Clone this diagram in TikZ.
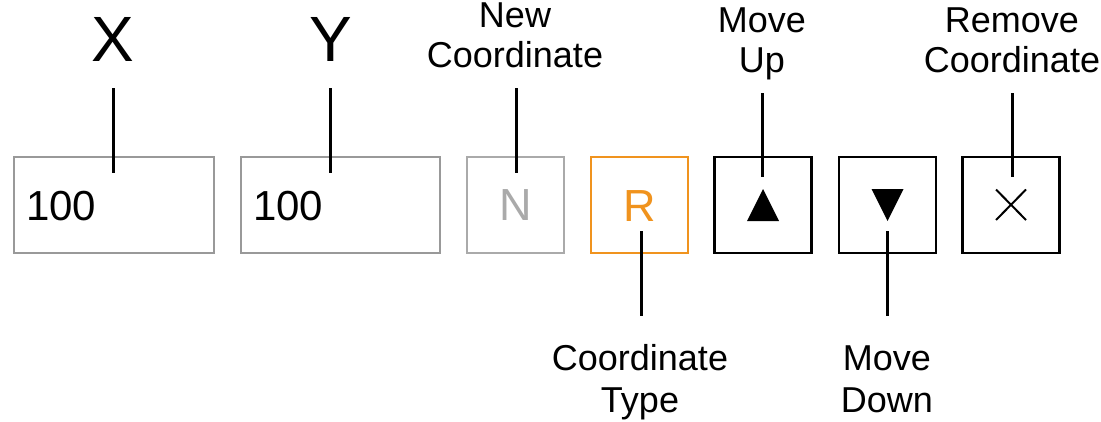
\documentclass[tikz,border=0pt]{standalone}
\usepackage{fontspec}
\setmainfont{Liberation Sans}
\definecolor{boxgray}{HTML}{999999}
\definecolor{ngray}{HTML}{AAAAAA}
\definecolor{rorange}{HTML}{F0931E}
\begin{document}
\begin{tikzpicture}[x=1pt,y=-1pt,
  field/.style={draw=boxgray,line width=2pt,minimum width=200pt,minimum height=96pt,inner sep=0pt},
  btn/.style={draw=black,line width=2.4pt,minimum width=97pt,minimum height=96pt,inner sep=0pt},
  conn/.style={line width=3pt},
  lbl/.style={font=\fontsize{36}{42}\selectfont,align=center,anchor=base,inner sep=0pt},
  toplbl/.style={lbl,font=\fontsize{36}{40}\selectfont},
  axis/.style={font=\fontsize{64}{70}\selectfont,anchor=base,inner sep=0pt},
  val/.style={font=\fontsize{42}{48}\selectfont,anchor=base west,inner sep=0pt},
  letter/.style={font=\fontsize{45}{50}\selectfont,anchor=base,inner sep=0pt}]
\useasboundingbox (0,0) rectangle (1101,421);
% boxes
\node[field] (bx) at (114,205) {};
\node[field,minimum width=199pt] (by) at (340.5,205) {};
\node[btn,draw=ngray,line width=2pt] (bn) at (515.5,205) {};
\node[btn,draw=rorange,line width=2.2pt] (br) at (639.5,205) {};
\node[btn] (bu) at (763,205) {};
\node[btn] (bd) at (887.5,205) {};
\node[btn] (bk) at (1011,205) {};
% contents
\node[val] (vx) at (26,220) {100};
\node[val] (vy) at (253,220) {100};
\node[letter,text=ngray] (tn) at (515.5,220) {N};
\node[letter,text=rorange] (tr) at (640,221) {R};
\fill (763,189) -- (779,221) -- (747,221) -- cycle;
\fill (887.5,221) -- (903.5,189) -- (871.5,189) -- cycle;
\draw[line width=2pt] (996,189.5) -- (1026,220) (996,220) -- (1026,189.5);
% labels (anchor = baseline of last line)
\node[axis] (lx) at (112.5,61) {X};
\node[axis] (ly) at (331,61) {Y};
\node[toplbl] (ln) at (515,67) {New\\Coordinate};
\node[toplbl] (lu) at (762,72) {Move\\Up};
\node[toplbl] (lk) at (1012,72) {Remove\\Coordinate};
\node[lbl] (lt) at (640,412) {Coordinate\\Type};
\node[lbl] (ld) at (887,412) {Move\\Down};
% connector end points
\coordinate (cx1) at (113,88);   \coordinate (cx2) at (113,173);
\coordinate (cy1) at (330,88);   \coordinate (cy2) at (330,173);
\coordinate (cn1) at (516,88);   \coordinate (cn2) at (516,173);
\coordinate (cu1) at (762,93);   \coordinate (cu2) at (762,177);
\coordinate (ck1) at (1012,93);  \coordinate (ck2) at (1012,177);
\coordinate (ct1) at (641,231);  \coordinate (ct2) at (641,316);
\coordinate (cd1) at (887.5,231);\coordinate (cd2) at (887.5,316);
\draw[conn] (cx1) -- (cx2);
\draw[conn] (cy1) -- (cy2);
\draw[conn] (cn1) -- (cn2);
\draw[conn] (cu1) -- (cu2);
\draw[conn] (ck1) -- (ck2);
\draw[conn] (ct1) -- (ct2);
\draw[conn] (cd1) -- (cd2);
\end{tikzpicture}
\end{document}
